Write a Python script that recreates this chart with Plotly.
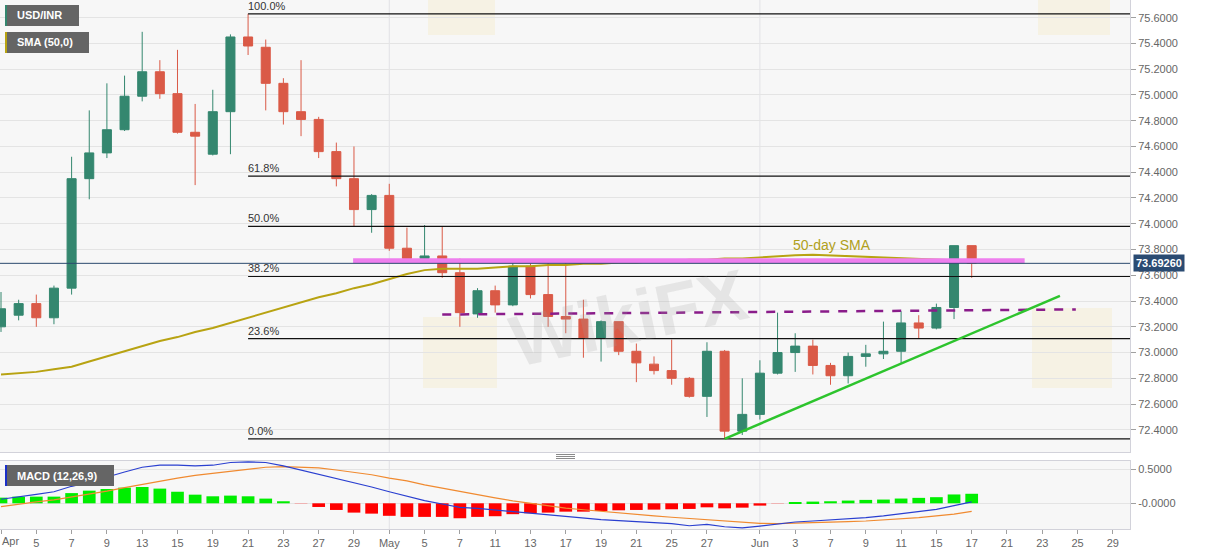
import plotly.graph_objects as go
import pandas as pd

# USD/INR daily candles, weekdays 1 Apr - 17 Jun 2021
opens = [73.20, 73.29, 73.38, 73.27, 73.50, 74.35, 74.55, 74.73, 74.99, 75.18,
         75.01, 74.71, 74.54, 74.87, 75.45, 75.37, 75.09, 74.87, 74.81, 74.56,
         74.35, 74.11, 74.22, 73.81, 73.73, 73.75, 73.62, 73.30, 73.48, 73.37,
         73.67, 73.45, 73.28, 73.26, 73.11, 73.24, 73.01, 72.91, 72.86, 72.80,
         72.66, 73.01, 72.39, 72.52, 72.84, 73.00, 73.05, 72.90, 72.82, 72.97,
         72.99, 73.01, 73.23, 73.19, 73.35, 73.83]
highs = [73.47, 73.41, 73.45, 73.52, 74.52, 74.88, 75.09, 75.15, 75.49, 75.27,
         75.35, 74.93, 75.04, 75.47, 75.63, 75.43, 75.13, 75.27, 74.83, 74.63,
         74.60, 74.23, 74.31, 73.97, 73.99, 73.98, 73.73, 73.50, 73.52, 73.71,
         73.69, 73.72, 73.72, 73.41, 73.25, 73.24, 73.07, 72.97, 73.10, 72.81,
         73.08, 73.02, 72.80, 72.94, 73.31, 73.15, 73.10, 72.92, 73.00, 73.06,
         73.24, 73.32, 73.29, 73.38, 73.83, 73.83]
lows = [73.16, 73.25, 73.20, 73.22, 73.45, 74.19, 74.51, 74.72, 74.95, 74.97,
        74.70, 74.30, 74.53, 74.54, 75.31, 74.88, 74.77, 74.68, 74.51, 74.29,
        73.98, 73.93, 73.79, 73.71, 73.71, 73.58, 73.20, 73.27, 73.31, 73.36,
        73.42, 73.20, 73.15, 72.96, 72.93, 72.98, 72.77, 72.83, 72.75, 72.65,
        72.50, 72.33, 72.36, 72.48, 72.83, 72.85, 72.83, 72.75, 72.76, 72.89,
        72.95, 72.92, 73.11, 73.18, 73.26, 73.58]
closes = [73.34, 73.38, 73.27, 73.50, 74.35, 74.55, 74.73, 74.99, 75.18, 75.01,
          74.71, 74.68, 74.87, 75.45, 75.38, 75.09, 74.87, 74.81, 74.56, 74.35,
          74.11, 74.22, 73.81, 73.73, 73.75, 73.62, 73.31, 73.48, 73.37, 73.67,
          73.45, 73.28, 73.26, 73.11, 73.24, 73.01, 72.92, 72.86, 72.80, 72.66,
          73.01, 72.39, 72.52, 72.84, 73.00, 73.05, 72.90, 72.82, 72.97, 72.99,
          73.01, 73.23, 73.19, 73.35, 73.83, 73.6926]
sma50 = [72.83, 72.84, 72.85, 72.87, 72.89, 72.93, 72.97, 73.01, 73.05, 73.09,
         73.12, 73.16, 73.19, 73.23, 73.27, 73.31, 73.35, 73.39, 73.43, 73.46,
         73.50, 73.53, 73.57, 73.61, 73.64, 73.65, 73.65, 73.65, 73.66, 73.67,
         73.67, 73.68, 73.68, 73.69, 73.69, 73.70, 73.70, 73.71, 73.71, 73.72,
         73.72, 73.73, 73.73, 73.74, 73.75, 73.755, 73.76, 73.755, 73.75, 73.745,
         73.74, 73.735, 73.73, 73.725, 73.72, 73.71]

macd_line = [0.06, 0.09, 0.13, 0.17, 0.25, 0.31, 0.39, 0.46, 0.53, 0.56,
             0.56, 0.55, 0.56, 0.60, 0.61, 0.60, 0.55, 0.49, 0.43, 0.36,
             0.30, 0.24, 0.17, 0.10, 0.04, -0.01, -0.06, -0.075, -0.10, -0.12,
             -0.15, -0.17, -0.20, -0.22, -0.24, -0.255, -0.27, -0.285, -0.30, -0.33,
             -0.31, -0.345, -0.36, -0.335, -0.30, -0.275, -0.26, -0.245, -0.23, -0.21,
             -0.185, -0.155, -0.125, -0.09, -0.035, 0.02]
signal_line = [-0.05, -0.01, 0.02, 0.05, 0.09, 0.13, 0.18, 0.23, 0.28, 0.33,
               0.37, 0.41, 0.44, 0.48, 0.50, 0.53, 0.54, 0.535, 0.52, 0.49,
               0.46, 0.42, 0.37, 0.33, 0.27, 0.22, 0.17, 0.12, 0.08, 0.035,
               0.0, -0.04, -0.07, -0.095, -0.12, -0.145, -0.165, -0.185, -0.205, -0.225,
               -0.245, -0.265, -0.28, -0.295, -0.30, -0.295, -0.29, -0.28, -0.27, -0.26,
               -0.245, -0.23, -0.21, -0.185, -0.16, -0.12]
macd_hist = [0.083, 0.098, 0.098, 0.098, 0.15, 0.186, 0.21, 0.23, 0.24, 0.216,
             0.17, 0.127, 0.103, 0.113, 0.103, 0.069, 0.03, -0.004, -0.054, -0.098,
             -0.137, -0.152, -0.184, -0.20, -0.20, -0.20, -0.22, -0.20, -0.19, -0.16,
             -0.147, -0.137, -0.123, -0.123, -0.113, -0.103, -0.098, -0.093, -0.088, -0.083,
             -0.059, -0.074, -0.064, -0.034, -0.004, 0.015, 0.025, 0.03, 0.04, 0.05,
             0.055, 0.07, 0.08, 0.09, 0.13, 0.14]

# x axis: trading-day index, labels every second weekday ("Apr" drawn separately)
tick_pos = [0, 2, 4, 6, 8, 10, 12, 14, 16, 18, 20, 22, 24, 26, 28, 30, 32, 34, 36,
            38, 40, 43, 45, 47, 49, 51, 53, 55, 57, 59, 61, 63]
tick_text = ["", "5", "7", "9", "13", "15", "19", "21", "23", "27", "29", "May",
             "5", "7", "11", "13", "17", "19", "21", "25", "27", "Jun", "3", "7",
             "9", "11", "15", "17", "21", "23", "25", "29"]
first_month = "Apr"
month_pos = [22, 43]

last_price = 73.6926
fib_high, fib_low = 75.63, 72.33
fib_ratios = [1.0, 0.618, 0.5, 0.382, 0.236, 0.0]
fib_start = 14

resist_x, resist_y = [19.95, 58.0], [73.712, 73.712]
support_x, support_y = [25.0, 60.9], [73.295, 73.335]
trend_x, trend_y = [41.0, 60.0], [72.33, 73.44]

dates = pd.bdate_range("2021-04-01", "2021-06-17")
idx = list(range(len(dates)))

UP, DOWN = "#34876F", "#DA5A47"
FONT = "Liberation Sans, Arial, sans-serif"

W, H = 1207, 555
ML, MR, MT, MB = 0, 77, 0, 26
PW, PH = W - ML - MR, H - MT - MB


def px(x):
    return (x - ML) / PW


def py(y):
    return (PH - (y - MT)) / PH


fig = go.Figure()
shapes = []
annotations = []

# faint logo tiles of the watermark
for x0, y0, x1, y1 in [(423, 317, 497, 388), (1032, 308, 1112, 388),
                       (428, -8, 495, 35), (1038, -8, 1110, 35)]:
    shapes.append(dict(type="rect", xref="paper", yref="paper", x0=px(x0), x1=px(x1),
                       y0=py(y1), y1=py(y0), fillcolor="rgba(245,228,165,0.22)",
                       line=dict(width=0), layer="below"))

fig.add_trace(go.Candlestick(
    x=idx, open=opens, high=highs, low=lows, close=closes,
    increasing=dict(line=dict(color=UP, width=1), fillcolor=UP),
    decreasing=dict(line=dict(color=DOWN, width=1), fillcolor=DOWN),
    whiskerwidth=0, showlegend=False, xaxis="x", yaxis="y",
    text=[d.strftime("%d %b") for d in dates], hoverinfo="text+y",
))

fig.add_trace(go.Scatter(x=idx, y=sma50, mode="lines",
                         line=dict(color="#B8A312", width=2),
                         showlegend=False, hoverinfo="skip"))

# fibonacci retracement levels
for r in fib_ratios:
    lvl = fib_low + r * (fib_high - fib_low)
    fig.add_trace(go.Scatter(x=[fib_start, 64.5], y=[lvl, lvl], mode="lines",
                             line=dict(color="#111111", width=1.2),
                             showlegend=False, hoverinfo="skip"))
    annotations.append(dict(x=fib_start, y=lvl, xref="x", yref="y",
                            text="%.1f%%" % (r * 100), showarrow=False,
                            xanchor="left", yanchor="bottom", xshift=-2,
                            font=dict(family=FONT, size=11, color="#333333")))

fig.add_trace(go.Scatter(x=resist_x, y=resist_y, mode="lines",
                         line=dict(color="#EE7FEE", width=5),
                         showlegend=False, hoverinfo="skip"))
fig.add_trace(go.Scatter(x=support_x, y=support_y, mode="lines",
                         line=dict(color="#8A1C8A", width=2.5, dash="dash"),
                         showlegend=False, hoverinfo="skip"))
fig.add_trace(go.Scatter(x=trend_x, y=trend_y, mode="lines",
                         line=dict(color="#2DC42D", width=2.5),
                         showlegend=False, hoverinfo="skip"))
fig.add_trace(go.Scatter(x=[-1, 65], y=[last_price, last_price], mode="lines",
                         line=dict(color="#2B4A6E", width=1),
                         showlegend=False, hoverinfo="skip"))

# MACD panel
bar_colors = []
for v in macd_hist:
    if abs(v) < 0.01:
        bar_colors.append("#EFB3B3")
    elif v > 0:
        bar_colors.append("#00EE00")
    else:
        bar_colors.append("#FF0000")
fig.add_trace(go.Bar(x=idx, y=macd_hist, width=0.72, marker=dict(color=bar_colors, line=dict(width=0)),
                     xaxis="x2", yaxis="y2", showlegend=False, hoverinfo="skip"))
fig.add_trace(go.Scatter(x=idx, y=signal_line, mode="lines", line=dict(color="#F08A30", width=1.2),
                         xaxis="x2", yaxis="y2", showlegend=False, hoverinfo="skip"))
fig.add_trace(go.Scatter(x=idx, y=macd_line, mode="lines", line=dict(color="#2A3FD0", width=1.2),
                         xaxis="x2", yaxis="y2", showlegend=False, hoverinfo="skip"))

for m in month_pos:
    for yr in ["y domain", "y2 domain"]:
        shapes.append(dict(type="line", xref="x", yref=yr, x0=m, x1=m, y0=0, y1=1,
                           line=dict(color="#E2E2E6", width=1), layer="below"))

# watermark text (only the one fully inside the plot)
annotations.append(dict(xref="paper", yref="paper", x=px(628), y=py(318), text="<b>WikiFX</b>",
                        showarrow=False, textangle=-12,
                        font=dict(family=FONT, size=72, color="rgba(160,160,160,0.20)")))

# indicator name boxes
boxes = [
    ("USD/INR", 5, 79, 5, 26, UP),
    ("SMA (50,0)", 5, 89, 32, 53, "#B8A312"),
    ("MACD (12,26,9)", 5, 114, 465, 486, "#1A2FC8"),
]
for label, x0, x1, y0, y1, col in boxes:
    shapes.append(dict(type="rect", xref="paper", yref="paper", x0=px(x0), x1=px(x1),
                       y0=py(y1), y1=py(y0), fillcolor="#656565", line=dict(width=0)))
    shapes.append(dict(type="rect", xref="paper", yref="paper", x0=px(x0), x1=px(x0 + 2),
                       y0=py(y1), y1=py(y0), fillcolor=col, line=dict(width=0)))
    annotations.append(dict(xref="paper", yref="paper", x=px(x0 + 10), y=py((y0 + y1) / 2),
                            text="<b>%s</b>" % label, showarrow=False, xanchor="left",
                            yanchor="middle", font=dict(family=FONT, size=11, color="white")))

# panel splitter
for yy in [454.5, 456.5, 458.5]:
    shapes.append(dict(type="line", xref="paper", yref="paper", x0=px(556), x1=px(575),
                       y0=py(yy), y1=py(yy), line=dict(color="#8A8A8A", width=1)))

annotations.append(dict(x=47.1, y=73.835, xref="x", yref="y", text="50-day SMA",
                        showarrow=False, font=dict(family=FONT, size=14, color="#B0A020")))
annotations.append(dict(xref="paper", yref="y", x=px(1133), y=last_price, text="<b>73.69260</b>",
                        showarrow=False, xanchor="left", bgcolor="#2A4B72", borderpad=2,
                        font=dict(family=FONT, size=11, color="white")))
annotations.append(dict(xref="paper", yref="paper", x=0, y=py(541), text=first_month,
                        showarrow=False, xanchor="left", yanchor="middle",
                        font=dict(family=FONT, size=11, color="#666666")))

axis_font = dict(family=FONT, size=11, color="#666666")
frame = dict(showline=True, mirror=True, linecolor="#D2D2DA", linewidth=1)

fig.update_layout(
    width=W, height=H,
    margin=dict(l=ML, r=MR, t=MT, b=MB),
    paper_bgcolor="white", plot_bgcolor="#F7F7F7",
    boxgap=0.27, bargap=0.28,
    xaxis=dict(domain=[0, 1], anchor="y", range=[-0.057, 63.97], showticklabels=False,
               showgrid=False, zeroline=False, ticks="", rangeslider=dict(visible=False), **frame),
    xaxis2=dict(domain=[0, 1], anchor="y2", matches="x", range=[-0.057, 63.97],
                tickmode="array", tickvals=tick_pos, ticktext=tick_text,
                ticks="outside", ticklen=4, tickcolor="#A0A0A0", tickfont=axis_font,
                showgrid=False, zeroline=False, **frame),
    yaxis=dict(domain=[py(452), 1], side="right", range=[72.228, 75.737],
               tick0=72.4, dtick=0.2, tickformat=".4f", ticks="outside", ticklen=5,
               tickcolor="#A0A0A0", tickfont=axis_font, gridcolor="#E4E4E4", zeroline=False, **frame),
    yaxis2=dict(domain=[0, py(461)], side="right", range=[-0.378, 0.622],
                tickmode="array", tickvals=[0.5, 0], ticktext=["0.5000", "-0.0000"],
                ticks="outside", ticklen=5, tickcolor="#A0A0A0", tickfont=axis_font,
                gridcolor="#E4E4E4", zeroline=False, **frame),
    shapes=shapes, annotations=annotations,
    showlegend=False, hovermode="closest",
)

# page body has a default 8px margin; drop it so the figure sits at the window corner
fig.write_html("out.html", config={"displayModeBar": False},
               post_script="document.body.style.margin='0px';")
